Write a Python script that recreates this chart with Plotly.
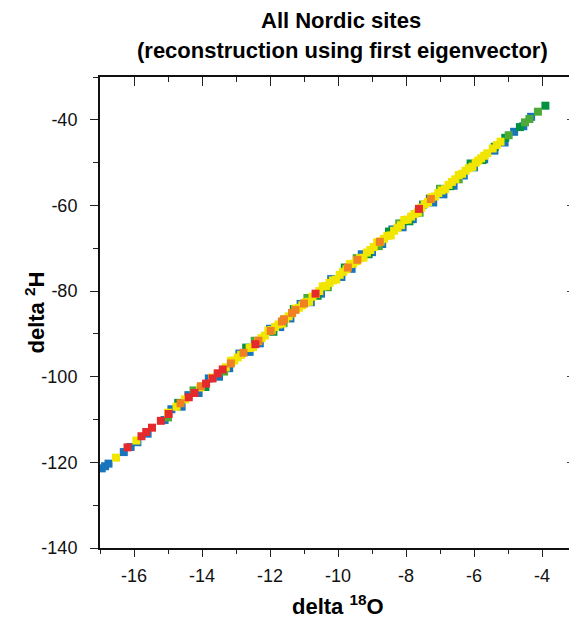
import plotly.graph_objects as go

# ---------------- data ----------------
blue_x = [-16.95, -16.85, -16.75, -16.3, -16.1, -15.9, -15.6, -15.1, -14.9, -14.6, -14.4, -14.1,
          -13.8, -13.5, -13.2, -12.9, -12.6, -12.3, -12.0, -11.7, -11.4, -11.1, -10.8, -10.5,
          -10.2, -9.9, -9.6, -9.3, -9.0, -8.7, -8.4, -8.1, -7.8, -7.5, -7.2, -6.9, -6.6, -6.3,
          -6.0, -5.7, -5.4, -5.1, -4.82, -4.55, -4.32]
blue_y = [-121.4, -120.9, -120.3, -117.6, -116.4, -115.3, -113.3, -110.1, -107.6, -107.0, -104.3, -103.8,
          -100.4, -100.0, -98.0, -94.6, -94.2, -92.2, -88.8, -88.4, -86.4, -83.0, -82.6, -80.6,
          -77.2, -76.7, -74.8, -71.4, -70.9, -69.0, -65.6, -65.1, -63.2, -59.8, -59.3, -57.4, -55.4, -53.0,
          -51.1, -49.2, -47.2, -45.3, -42.8, -41.5, -39.3]

dgreen_x = [-14.7, -13.9, -12.7, -11.9, -11.3, -10.6, -9.8, -9.1, -8.5, -7.9, -7.3, -6.7, -6.1,
            -5.75, -5.39, -5.08, -4.65, -3.9]
dgreen_y = [-106.1, -102.4, -93.2, -89.5, -84.2, -81.1, -74.5, -71.4, -66.1, -63.7, -58.4, -55.5, -50.2,
            -49.4, -46.3, -44.2, -41.7, -36.7]

lgreen_x = [-15.0, -14.25, -13.35, -12.45, -11.6, -10.9, -10.3, -9.45, -8.8, -8.2, -7.6, -7.0, -6.45,
            -6.03, -4.98, -4.5, -4.37, -4.12]
lgreen_y = [-109.5, -103.2, -98.8, -91.6, -87.5, -81.6, -79.1, -72.3, -69.5, -64.2, -61.7, -56.1, -53.9,
            -50.7, -43.6, -40.6, -39.8, -38.1]

yellow_x = [-16.53, -15.93, -15.0, -14.75, -14.5, -14.05, -13.7, -13.3, -13.05, -12.85, -12.6, -12.35,
            -12.15, -11.95, -11.75, -11.55, -11.35, -11.15, -10.95, -10.75, -10.55, -10.35, -10.15,
            -9.95, -9.75, -9.55, -9.35, -9.15, -8.95, -8.75, -8.55, -8.35, -8.15, -7.95, -7.75,
            -7.55, -7.35, -7.15, -6.95, -6.75, -6.55, -6.35, -6.15, -5.95, -5.79, -5.61, -5.22,
            -13.15, -12.5, -12.05, -11.65, -11.25, -10.85, -10.45, -10.05, -9.65, -9.25, -8.85,
            -8.45, -8.05, -7.65, -7.25, -6.85, -6.45, -6.05,
            -12.95, -12.25, -11.85, -11.45, -11.05, -10.65, -10.25, -9.85, -9.45, -9.05, -8.65,
            -8.25, -7.85, -7.45, -7.05, -6.65, -6.25, -5.87, -5.7, -5.45, -5.33]
yellow_y = [-118.9, -114.9, -108.4, -107.0, -105.3, -102.5, -100.2, -97.8, -96.2, -94.9, -93.3, -91.7,
            -90.4, -89.1, -87.8, -86.5, -85.2, -83.9, -82.6, -81.3, -80.0, -78.8, -77.5,
            -76.2, -74.9, -73.6, -72.3, -71.0, -69.7, -68.4, -67.1, -65.9, -64.6, -63.3, -62.0,
            -60.5, -59.2, -57.9, -56.5, -55.2, -53.9, -52.6, -51.3, -50.0, -49.0, -47.8, -45.1,
            -96.3, -93.1, -89.2, -87.6, -84.1, -82.5, -78.9, -77.3, -73.7, -72.2, -68.6,
            -67.0, -63.4, -61.6, -58.1, -56.2, -52.9, -51.0,
            -95.5, -91.0, -88.4, -85.9, -83.3, -80.7, -78.1, -75.5, -73.0, -70.4, -67.8,
            -65.2, -62.6, -59.7, -57.1, -54.5, -51.9, -49.5, -48.4, -46.7, -45.9]

orange_x = [-14.63, -14.03, -13.15, -12.78, -12.34, -11.98, -11.65, -11.59, -11.35, -11.25, -11.0,
            -9.71, -9.43, -8.77, -7.27]
orange_y = [-106.2, -102.2, -96.9, -94.4, -91.6, -89.3, -87.1, -86.6, -85.1, -84.4, -82.9,
            -74.5, -72.7, -68.5, -58.5]

red_x = [-16.19, -15.78, -15.64, -15.47, -15.21, -14.98, -14.39, -14.22, -13.88, -13.69, -13.54,
         -13.39, -12.43, -10.66, -7.62]
red_y = [-116.5, -113.9, -112.9, -111.9, -110.3, -108.7, -104.8, -103.8, -101.6, -100.4, -99.2,
         -98.3, -92.4, -80.6, -60.8]

x_range = [-17, -3]
y_range = [-140, -30]
x_tickvals = [-16, -14, -12, -10, -8, -6, -4]
x_ticktext = ["-16", "-14", "-12", "-10", "-8", "-6", "-4"]
y_tickvals = [-140, -120, -100, -80, -60, -40]
y_ticktext = ["-140", "-120", "-100", "-80", "-60", "-40"]

series = [
    (blue_x, blue_y, "#1774bd"),
    (dgreen_x, dgreen_y, "#009241"),
    (lgreen_x, lgreen_y, "#4cab38"),
    (yellow_x, yellow_y, "#f2e600"),
    (orange_x, orange_y, "#f08123"),
    (red_x, red_y, "#e42a2c"),
]

FONT = "Arial, Liberation Sans, sans-serif"
OFF = 8  # page body margin of the browser

fig = go.Figure()
for xs, ys, col in series:
    fig.add_trace(go.Scatter(x=xs, y=ys, mode="markers",
                             marker=dict(symbol="square", size=8, color=col, line=dict(width=0)),
                             showlegend=False, hoverinfo="skip"))

# invisible trace to bind the mirrored (top/right) axes
fig.add_trace(go.Scatter(x=[x_range[0]], y=[y_range[0]], xaxis="x2", yaxis="y2",
                         mode="markers", marker=dict(opacity=0), showlegend=False, hoverinfo="skip"))

tickfont = dict(family=FONT, size=18, color="#111")

fig.update_layout(
    width=577 - OFF, height=627 - OFF,
    margin=dict(l=100 - OFF, r=1, t=77 - OFF, b=79),
    paper_bgcolor="white", plot_bgcolor="white",
    xaxis=dict(range=x_range, tickvals=x_tickvals, ticktext=x_ticktext, ticks="outside",
               ticklen=7, tickwidth=1, tickcolor="#222", showline=True, linecolor="#111",
               linewidth=1.5, showgrid=False, zeroline=False, tickfont=tickfont,
               ticklabelstandoff=4,
               minor=dict(dtick=1, tick0=0, ticks="outside", ticklen=4, tickcolor="#222")),
    yaxis=dict(range=y_range, tickvals=y_tickvals, ticktext=y_ticktext, ticks="outside",
               ticklen=8, tickwidth=1, tickcolor="#222", showline=True, linecolor="#111",
               linewidth=2, showgrid=False, zeroline=False, tickfont=tickfont,
               ticklabelstandoff=9,
               minor=dict(dtick=10, tick0=0, ticks="outside", ticklen=5, tickcolor="#222")),
    xaxis2=dict(range=x_range, overlaying="x", side="top", anchor="y2", tickvals=x_tickvals,
                ticks="inside", ticklen=9, tickwidth=1, tickcolor="#222", showticklabels=False,
                showline=True, linecolor="#111", linewidth=1.5, showgrid=False, zeroline=False,
                minor=dict(dtick=1, tick0=0, ticks="inside", ticklen=5, tickcolor="#222")),
    yaxis2=dict(range=y_range, overlaying="y", side="right", anchor="x2", tickvals=y_tickvals,
                ticks="inside", ticklen=9, tickwidth=1, tickcolor="#444", showticklabels=False,
                showline=True, linecolor="#777", linewidth=1, showgrid=False, zeroline=False,
                minor=dict(dtick=10, tick0=0, ticks="inside", ticklen=5, tickcolor="#444")),
    annotations=[
        dict(text="<b>All Nordic sites</b>", x=0.5, y=1, xref="paper", yref="paper",
             xanchor="center", yanchor="middle", showarrow=False, yshift=57, xshift=3,
             font=dict(family=FONT, size=22, color="#000")),
        dict(text="<b>(reconstruction using first eigenvector)</b>", x=0.5, y=1, xref="paper",
             yref="paper", xanchor="center", yanchor="middle", showarrow=False, yshift=27, xshift=4,
             font=dict(family=FONT, size=22, color="#000")),
        dict(text="<b>delta <sup>18</sup>O</b>", x=0.5, y=0, xref="paper", yref="paper",
             xanchor="center", yanchor="middle", showarrow=False, yshift=-57,
             font=dict(family=FONT, size=22, color="#000")),
        dict(text="<b>delta <sup>2</sup>H</b>", x=0, y=0.5, xref="paper", yref="paper",
             xanchor="center", yanchor="middle", showarrow=False, xshift=-66, textangle=-90,
             font=dict(family=FONT, size=22, color="#000")),
    ],
)

fig.write_html("out.html")
